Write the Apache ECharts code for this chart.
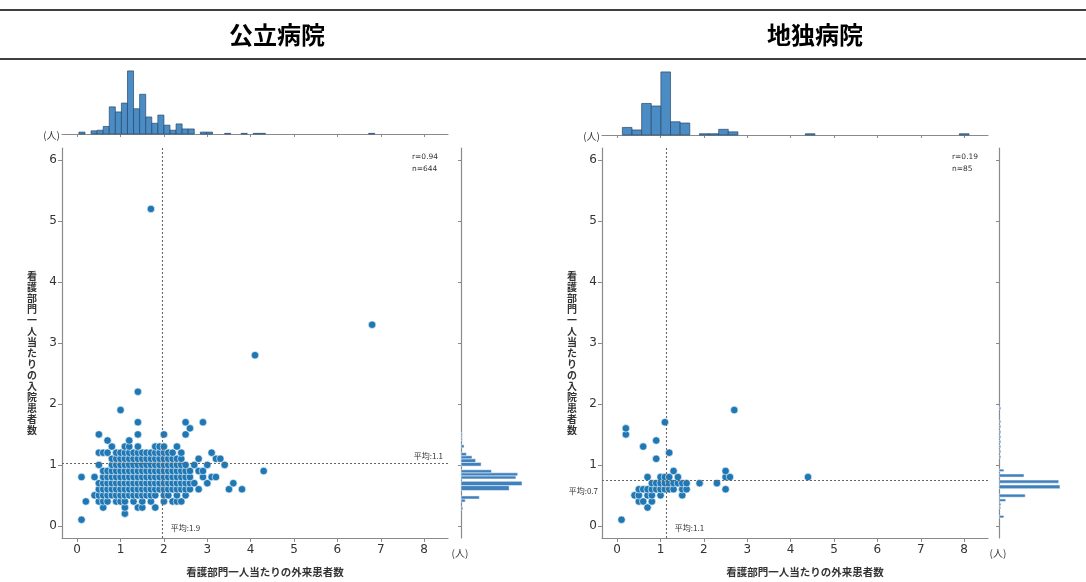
<!DOCTYPE html>
<html><head><meta charset="utf-8">
<script src="https://cdn.jsdelivr.net/npm/echarts@6/dist/echarts.min.js"></script>
<style>html,body{margin:0;padding:0;background:#fff}#c{width:1086px;height:582px}</style>
</head><body><div id="c"></div>
<script>
// ---------- text ----------
const titles = ['公立病院', '地独病院'];
const xName = '看護部門一人当たりの外来患者数';
const yName = '看護部門一人当たりの入院患者数';
const unitLabel = '(人)';
const xTicks = [0, 1, 2, 3, 4, 5, 6, 7, 8];
const yTicks = [0, 1, 2, 3, 4, 5, 6];

// ---------- 公立病院 ----------
const pubStats = ['r=0.94', 'n=644'];
const pubMeanX = 1.95, pubMeanXLabel = '平均:1.9';
const pubMeanY = 1.03, pubMeanYLabel = '平均:1.1';
// rows: [y, [x values]]
const pubRows = [
  [0.1, [0.1]],
  [0.2, [1.1]],
  [0.3, [0.6, 1.1, 1.4, 1.5, 1.8]],
  [0.4, [0.2, 0.5, 0.6, 0.7, 0.9, 1.0, 1.1, 1.3, 1.5, 1.7, 2.0, 2.2, 2.3, 2.4]],
  [0.5, [0.4, 0.5, 0.6, 0.7, 0.8, 0.9, 1.0, 1.1, 1.2, 1.3, 1.4, 1.5, 1.6, 1.7, 1.8, 2.0, 2.1, 2.3, 2.5]],
  [0.6, [0.5, 0.6, 0.7, 0.8, 0.9, 1.0, 1.1, 1.2, 1.3, 1.4, 1.5, 1.6, 1.7, 1.8, 1.9, 2.0, 2.1, 2.2, 2.3, 2.4, 2.5, 2.6, 2.8, 3.5, 3.8]],
  [0.7, [0.5, 0.6, 0.7, 0.8, 0.9, 1.0, 1.1, 1.2, 1.3, 1.4, 1.5, 1.6, 1.7, 1.8, 1.9, 2.0, 2.1, 2.2, 2.3, 2.4, 2.5, 2.6, 2.7, 3.0, 3.6]],
  [0.8, [0.1, 0.4, 0.6, 0.7, 0.8, 0.9, 1.0, 1.1, 1.2, 1.3, 1.4, 1.5, 1.6, 1.7, 1.8, 1.9, 2.0, 2.1, 2.2, 2.3, 2.4, 2.5, 2.6, 2.9, 3.1, 3.2]],
  [0.9, [0.6, 0.7, 0.8, 0.9, 1.0, 1.1, 1.2, 1.3, 1.4, 1.5, 1.6, 1.7, 1.8, 1.9, 2.0, 2.1, 2.2, 2.3, 2.4, 2.5, 2.6, 2.8, 2.9, 4.3]],
  [1.0, [0.5, 0.8, 0.9, 1.0, 1.1, 1.2, 1.3, 1.4, 1.5, 1.6, 1.7, 1.8, 1.9, 2.0, 2.1, 2.2, 2.3, 2.4, 2.5, 2.7, 3.0, 3.4]],
  [1.1, [0.8, 0.9, 1.0, 1.1, 1.2, 1.3, 1.4, 1.5, 1.6, 1.7, 1.8, 1.9, 2.0, 2.1, 2.2, 2.3, 2.4, 2.8, 3.2, 3.3]],
  [1.2, [0.5, 0.6, 0.7, 0.9, 1.0, 1.1, 1.2, 1.3, 1.4, 1.5, 1.6, 1.7, 1.8, 1.9, 2.0, 2.1, 2.2, 2.4, 3.1]],
  [1.3, [0.8, 1.1, 1.2, 1.4, 1.8, 1.9, 2.0, 2.3]],
  [1.4, [0.7, 1.2]],
  [1.5, [0.5, 1.4, 2.0, 2.5]],
  [1.6, [2.6]],
  [1.7, [1.4, 2.5, 2.9]],
  [1.9, [1.0]],
  [2.2, [1.4]],
  [2.8, [4.1]],
  [3.3, [6.8]],
  [5.2, [1.7]]
];
// top histogram bins: [lo, hi, count]
const pubXHist = [
  [0.04, 0.18, 3], [0.32, 0.46, 5], [0.46, 0.60, 6], [0.60, 0.74, 12], [0.74, 0.88, 43],
  [0.88, 1.02, 35], [1.02, 1.16, 49], [1.16, 1.30, 100], [1.30, 1.44, 40], [1.44, 1.58, 63],
  [1.58, 1.72, 27], [1.72, 1.86, 17], [1.86, 2.00, 30], [2.00, 2.14, 14], [2.14, 2.28, 6],
  [2.28, 2.42, 16], [2.42, 2.56, 8], [2.56, 2.70, 8], [2.84, 2.98, 3], [2.98, 3.12, 3],
  [3.40, 3.54, 1], [3.78, 3.92, 1], [4.06, 4.20, 1], [4.20, 4.34, 1], [6.72, 6.86, 1]
];
// right histogram bins: [lo, hi, count]
const pubYHist = [
  [0.26, 0.31, 3], [0.39, 0.44, 7], [0.44, 0.49, 30], [0.58, 0.66, 79], [0.66, 0.73, 100],
  [0.77, 0.82, 90], [0.82, 0.87, 93], [0.87, 0.92, 50], [0.98, 1.04, 33], [1.04, 1.10, 24],
  [1.10, 1.15, 18], [1.15, 1.20, 9], [1.28, 1.33, 5], [1.40, 1.45, 2], [1.48, 1.53, 2]
];

// ---------- 地独病院 ----------
const indStats = ['r=0.19', 'n=85'];
const indMeanX = 1.12, indMeanXLabel = '平均:1.1';
const indMeanY = 0.75, indMeanYLabel = '平均:0.7';
const indRows = [
  [0.1, [0.1]],
  [0.3, [0.7]],
  [0.4, [0.5, 0.6, 0.8]],
  [0.5, [0.4, 0.5, 0.7, 0.8, 1.0, 1.5]],
  [0.6, [0.5, 0.6, 0.7, 0.8, 0.9, 1.0, 1.1, 1.2, 1.3, 1.5, 1.6, 2.5]],
  [0.7, [0.8, 0.9, 1.0, 1.1, 1.2, 1.3, 1.4, 1.5, 1.6, 1.9, 2.3]],
  [0.8, [0.7, 1.0, 1.1, 1.2, 1.4, 2.5, 2.6, 4.4]],
  [0.9, [1.3, 2.5]],
  [1.1, [0.9]],
  [1.2, [1.2]],
  [1.3, [0.6]],
  [1.4, [0.9]],
  [1.5, [0.2]],
  [1.6, [0.2]],
  [1.7, [1.1]],
  [1.9, [2.7]]
];
const indXHist = [
  [0.12, 0.342, 12], [0.342, 0.564, 8], [0.564, 0.786, 50], [0.786, 1.008, 46], [1.008, 1.23, 100],
  [1.23, 1.452, 21], [1.452, 1.674, 19], [1.896, 2.118, 2], [2.118, 2.34, 2], [2.34, 2.562, 9],
  [2.562, 2.784, 5], [4.338, 4.56, 2], [7.89, 8.112, 2]
];
const indYHist = [
  [0.13, 0.17, 8], [0.28, 0.31, 3], [0.33, 0.37, 3], [0.40, 0.44, 11], [0.47, 0.52, 43],
  [0.61, 0.67, 100], [0.70, 0.75, 98], [0.80, 0.85, 41], [0.89, 0.93, 8],
  [1.11, 1.15, 3], [1.20, 1.24, 3], [1.28, 1.32, 3], [1.36, 1.40, 3], [1.44, 1.48, 3],
  [1.52, 1.56, 3], [1.61, 1.65, 3], [1.69, 1.73, 3], [1.91, 1.95, 3]
];

// ---------- build ----------
const XMIN = -0.35, XMAX = 8.55, YMIN = -0.2, YMAX = 6.2;
const AX = '#8a8a8a', TXT = '#333';
const CJK = '"Noto Sans CJK JP", "Noto Sans", sans-serif';
const toPoints = rows => rows.flatMap(([y, xs]) => xs.map(x => [x, y]));

const chart = echarts.init(document.getElementById('c'), null, {renderer: 'canvas'});

const panels = [
  {sx: 62, hy: 64, mx: 461, rows: pubRows, xh: pubXHist, yh: pubYHist, mX: pubMeanX, mY: pubMeanY},
  {sx: 602, hy: 65, mx: 999, rows: indRows, xh: indXHist, yh: indYHist, mX: indMeanX, mY: indMeanY}
];

const grid = [], xAxis = [], yAxis = [], series = [];
const histStyle = {fill: '#4b8cc4', stroke: '#27496a', lineWidth: 0.7};

panels.forEach((p, i) => {
  const g = i * 3;
  grid.push({left: p.sx, top: 148, width: 386, height: 390});
  grid.push({left: p.sx, top: p.hy, width: 386, height: 70});
  grid.push({left: p.mx, top: 148, width: 75, height: 390});

  xAxis.push({gridIndex: g, type: 'value', min: XMIN, max: XMAX,
    axisLine: {onZero: false, lineStyle: {color: AX, width: 1.2}},
    axisTick: {customValues: xTicks, length: 4, lineStyle: {color: AX}},
    axisLabel: {customValues: xTicks, color: TXT, fontSize: 12, margin: 6, fontFamily: 'DejaVu Sans'},
    splitLine: {show: false}});
  yAxis.push({gridIndex: g, type: 'value', min: YMIN, max: YMAX,
    axisLine: {show: true, onZero: false, lineStyle: {color: AX, width: 1.2}},
    axisTick: {show: true, customValues: yTicks, length: 4, lineStyle: {color: AX}},
    axisLabel: {customValues: yTicks, color: TXT, fontSize: 12, margin: 5, fontFamily: 'DejaVu Sans'},
    splitLine: {show: false}});

  xAxis.push({gridIndex: g + 1, type: 'value', min: XMIN, max: XMAX,
    axisLine: {onZero: false, lineStyle: {color: AX, width: 1.2}},
    axisTick: {customValues: xTicks, length: 3, lineStyle: {color: AX}},
    axisLabel: {show: false}, splitLine: {show: false}});
  yAxis.push({gridIndex: g + 1, type: 'value', min: 0, max: 111, show: false});

  xAxis.push({gridIndex: g + 2, type: 'value', min: 0, max: 123, show: false});
  yAxis.push({gridIndex: g + 2, type: 'value', min: YMIN, max: YMAX,
    axisLine: {show: true, onZero: false, lineStyle: {color: AX, width: 1.2}},
    axisTick: {show: true, customValues: yTicks, length: 3, lineStyle: {color: AX}},
    axisLabel: {show: false}, splitLine: {show: false}});

  series.push({type: 'scatter', xAxisIndex: g, yAxisIndex: g, data: toPoints(p.rows),
    symbolSize: 7.5, itemStyle: {color: '#1f77b4', borderColor: '#fff', borderWidth: 0.6, opacity: 1},
    markLine: {silent: true, symbol: 'none', animation: false, label: {show: false},
      lineStyle: {type: [2, 2], color: '#666', width: 1.1},
      data: [{xAxis: p.mX}, {yAxis: p.mY}]}});

  series.push({type: 'custom', xAxisIndex: g + 1, yAxisIndex: g + 1, data: p.xh,
    renderItem: (params, api) => {
      const a = api.coord([api.value(0), 0]), b = api.coord([api.value(1), api.value(2)]);
      return {type: 'rect', shape: {x: a[0], y: b[1], width: b[0] - a[0], height: a[1] - b[1]}, style: histStyle};
    }});
  series.push({type: 'custom', xAxisIndex: g + 2, yAxisIndex: g + 2, data: p.yh,
    renderItem: (params, api) => {
      const a = api.coord([0, api.value(0)]), b = api.coord([api.value(2), api.value(1)]);
      return {type: 'rect', shape: {x: a[0], y: b[1], width: b[0] - a[0], height: a[1] - b[1]},
        style: {fill: '#3f80bd', stroke: '#fff', lineWidth: 0.5}};
    }});
});

chart.setOption({animation: false, grid, xAxis, yAxis, series});

// ---------- annotations (positions from the library's scales) ----------
const px = (gi, x, y) => chart.convertToPixel({gridIndex: gi}, [x, y]);
const txt = (x, y, text, o = {}) => ({type: 'text', x, y, silent: true,
  style: Object.assign({text, fill: TXT, fontSize: 10, fontFamily: CJK, align: 'center', verticalAlign: 'middle'}, o)});

const graphic = [
  {type: 'line', shape: {x1: 0, y1: 10, x2: 1086, y2: 10}, style: {stroke: '#000', lineWidth: 1.5}},
  {type: 'line', shape: {x1: 0, y1: 59, x2: 1086, y2: 59}, style: {stroke: '#000', lineWidth: 1.5}},
  txt(277, 35, titles[0], {fontSize: 24, fontWeight: 'bold', fill: '#000'}),
  txt(815, 35, titles[1], {fontSize: 24, fontWeight: 'bold', fill: '#000'})
];

const meta = [
  {stats: pubStats, mXL: pubMeanXLabel, mYL: pubMeanYLabel, mX: pubMeanX, mY: pubMeanY, yLabelLeft: false},
  {stats: indStats, mXL: indMeanXLabel, mYL: indMeanYLabel, mX: indMeanX, mY: indMeanY, yLabelLeft: true}
];
meta.forEach((m, i) => {
  const g = i * 3, p = panels[i];
  const right = p.sx + 386;
  // axis names
  graphic.push(txt(p.sx + 203, 572, xName, {fontSize: 10.5, fill: '#333', fontWeight: 'bold'}));
  graphic.push(txt(p.sx - 30, 353, yName.split('').join('\n'), {fontSize: 10, lineHeight: 11, fill: '#333', fontWeight: 'bold'}));
  // units
  graphic.push(txt(p.mx - 1, 553, unitLabel, {fontSize: 10}));
  graphic.push(txt(p.sx - 2, p.hy + 71, unitLabel, {fontSize: 10, align: 'right'}));
  // stats
  graphic.push(txt(right - 36, 157, m.stats[0], {fontSize: 7.5, align: 'left', fontFamily: 'DejaVu Sans'}));
  graphic.push(txt(right - 36, 169, m.stats[1], {fontSize: 7.5, align: 'left', fontFamily: 'DejaVu Sans'}));
  // mean labels
  const vx = px(g, m.mX, 0);
  graphic.push(txt(vx[0] + 9, vx[1] + 2, m.mXL, {fontSize: 8, align: 'left'}));
  const hy = px(g, 0, m.mY);
  if (m.yLabelLeft) graphic.push(txt(p.sx - 4, hy[1] + 11, m.mYL, {fontSize: 8, align: 'right'}));
  else graphic.push(txt(right - 5, hy[1] - 7, m.mYL, {fontSize: 8, align: 'right'}));
});

chart.setOption({graphic});
</script></body></html>
